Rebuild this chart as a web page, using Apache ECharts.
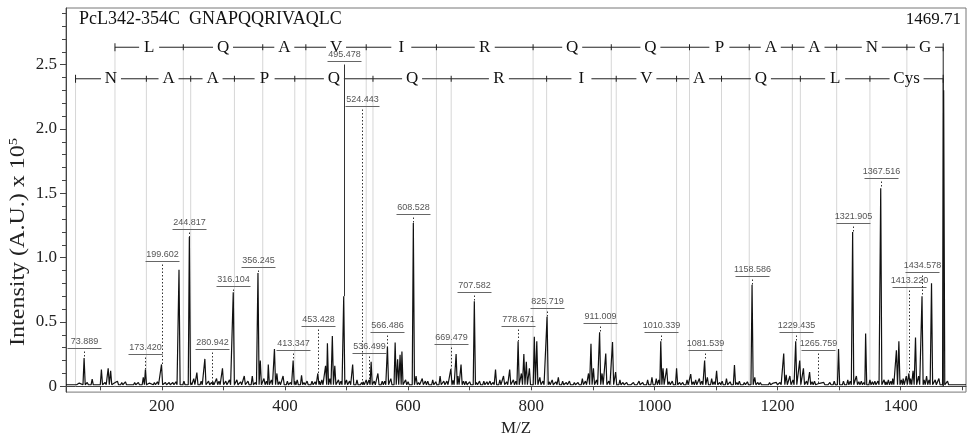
<!DOCTYPE html>
<html lang="en">
<head>
  <meta charset="UTF-8">
  <title>PcL342-354C GNAPQQRIVAQLC</title>
  <style>
    * { padding: 0; margin: 0; box-sizing: border-box; }
    body { background: #fff; }
    #chart { width: 969px; height: 442px; }
  </style>
</head>
<body>
  <div id="chart"></div>

  <script src="https://cdn.jsdelivr.net/npm/echarts@6/dist/echarts.min.js"></script>
  <script>
    // axis ticks
    const xTicks = [100, 200, 300, 400, 500, 600, 700, 800, 900, 1000, 1100, 1200, 1300, 1400, 1500];
    const xLabels = [200, 400, 600, 800, 1000, 1200, 1400];
    const yTicks = [0, 0.1, 0.2, 0.3, 0.4, 0.5, 0.6, 0.7, 0.8, 0.9, 1.0, 1.1, 1.2, 1.3, 1.4, 1.5,
      1.6, 1.7, 1.8, 1.9, 2.0, 2.1, 2.2, 2.3, 2.4, 2.5, 2.6, 2.7, 2.8, 2.9];
    const yLabels = [0, 0.5, 1.0, 1.5, 2.0, 2.5];

    // labelled peaks: m/z text, peak height, level of the label
    const labelNames = ['73.889', '173.420', '199.602', '244.817', '280.942', '316.104', '356.245',
      '413.347', '453.428', '495.478', '524.443', '536.499', '566.486', '608.528', '669.479',
      '707.582', '778.671', '825.719', '911.009', '1010.339', '1081.539', '1158.586', '1229.435',
      '1265.759', '1321.905', '1367.516', '1413.220', '1434.578'];
    const labelPeakHeights = [0.22, 0.13, 0.17, 1.16, 0.03, 0.73, 0.88,
      0.2, 0.1, 0.70, 0.03, 0.05, 0.31, 1.27, 0.135,
      0.66, 0.35, 0.54, 0.42, 0.35, 0.2, 0.79, 0.35,
      0.02, 1.2, 1.54, 0.1, 0.70];
    const labelLevels = [0.30, 0.25, 0.97, 1.22, 0.29, 0.78, 0.93,
      0.28, 0.47, 2.53, 2.18, 0.26, 0.42, 1.34, 0.33,
      0.73, 0.47, 0.61, 0.49, 0.42, 0.28, 0.86, 0.42,
      0.28, 1.27, 1.62, 0.77, 0.89];

    // precursor
    const precursorMz = 1469.71;
    const precursorHeight = 2.3;

    // unlabelled peaks [m/z, height]
    const otherPeaks = [
      [87, 0.055], [102, 0.13], [113, 0.14], [117, 0.12], [128, 0.04], [141, 0.035], [156, 0.03],
      [170, 0.07], [188, 0.03], [212, 0.03], [218, 0.03], [228, 0.905], [236, 0.04], [252, 0.06],
      [257, 0.106], [264, 0.04], [270, 0.213], [276, 0.04], [289, 0.06], [298.6, 0.14], [304, 0.04],
      [310, 0.05], [322, 0.05], [334, 0.08], [340, 0.04], [347, 0.08], [360, 0.2], [366, 0.06],
      [373, 0.17], [378, 0.05], [383, 0.29], [387, 0.1], [397, 0.08], [404, 0.04], [420, 0.05],
      [427, 0.085], [436, 0.04], [444, 0.04], [460, 0.05], [466, 0.16], [469, 0.335], [473, 0.06],
      [477, 0.39], [481, 0.16], [487, 0.05], [500, 0.05], [510, 0.17], [517, 0.05], [532, 0.05],
      [540, 0.19], [551, 0.1], [558, 0.04], [572, 0.06], [579, 0.34], [583, 0.21], [587, 0.245],
      [590, 0.27], [596, 0.05], [613, 0.08], [623, 0.06], [632, 0.04], [640, 0.05], [652, 0.08],
      [658, 0.04], [678, 0.25], [681, 0.08], [686, 0.17], [694, 0.04], [716, 0.04], [723, 0.04],
      [733, 0.04], [742, 0.13], [749, 0.05], [755, 0.08], [765, 0.13], [771, 0.05], [784, 0.1],
      [788, 0.25], [792, 0.19], [797, 0.14], [805, 0.385], [809, 0.35], [814, 0.07], [834, 0.05],
      [844, 0.07], [851, 0.04], [862, 0.04], [870, 0.03], [883, 0.06], [893, 0.1], [897, 0.33],
      [901, 0.14], [915, 0.1], [921, 0.255], [932, 0.345], [937, 0.11], [944, 0.05], [955, 0.03],
      [966, 0.03], [975, 0.04], [989, 0.05], [996, 0.07], [1003, 0.06], [1014, 0.14], [1020, 0.14],
      [1029, 0.04], [1036, 0.14], [1046, 0.03], [1053, 0.05], [1059, 0.095], [1067, 0.05],
      [1073, 0.06], [1086, 0.07], [1093, 0.06], [1101, 0.12], [1110, 0.04], [1117, 0.06],
      [1130, 0.165], [1138, 0.04], [1146, 0.03], [1163, 0.07], [1172, 0.03], [1187, 0.03],
      [1198, 0.03], [1210, 0.255], [1214, 0.09], [1220, 0.08], [1236, 0.2], [1242, 0.14],
      [1252, 0.11], [1260, 0.04], [1275, 0.03], [1285, 0.03], [1292, 0.04], [1299, 0.29],
      [1307, 0.04], [1314, 0.05], [1328, 0.08], [1336, 0.04], [1343, 0.41], [1350, 0.05],
      [1358, 0.04], [1373, 0.05], [1380, 0.05], [1387, 0.06], [1393, 0.28], [1397, 0.35],
      [1404, 0.06], [1409, 0.08], [1420, 0.12], [1424, 0.38], [1429, 0.08], [1442, 0.08],
      [1450, 0.80], [1456, 0.05], [1462, 0.06], [1476, 0.04], [1485, 0.02], [1495, 0.02]
    ];

    // low baseline bumps [m/z, height]
    const noisePeaks = [
      [60, 0.02], [66, 0.025], [79, 0.03], [95, 0.025], [108, 0.03], [123, 0.025], [135, 0.03],
      [148, 0.025], [162, 0.03], [180, 0.025], [193, 0.035], [206, 0.03], [223, 0.035], [247, 0.03],
      [283, 0.035], [293, 0.04], [328, 0.035], [352, 0.03], [370, 0.04], [391, 0.035], [409, 0.03],
      [416, 0.04], [431, 0.03], [449, 0.035], [456, 0.04], [491, 0.04], [505, 0.04], [527, 0.035],
      [545, 0.04], [562, 0.04], [600, 0.035], [617, 0.03], [628, 0.04], [645, 0.035], [663, 0.04],
      [673, 0.045], [690, 0.04], [700, 0.035], [711, 0.03], [728, 0.035], [738, 0.03], [760, 0.035],
      [775, 0.04], [819, 0.04], [829, 0.035], [840, 0.035], [857, 0.03], [876, 0.03], [888, 0.04],
      [906, 0.05], [926, 0.04], [949, 0.03], [960, 0.025], [970, 0.025], [981, 0.03], [1007, 0.05],
      [1024, 0.035], [1041, 0.03], [1063, 0.035], [1077, 0.04], [1097, 0.035], [1106, 0.03],
      [1123, 0.035], [1134, 0.03], [1151, 0.035], [1168, 0.03], [1180, 0.025], [1193, 0.025],
      [1204, 0.03], [1225, 0.05], [1247, 0.04], [1256, 0.035], [1270, 0.025], [1280, 0.025],
      [1318, 0.04], [1332, 0.035], [1340, 0.03], [1354, 0.035], [1363, 0.04], [1376, 0.035],
      [1384, 0.04], [1401, 0.05], [1416, 0.06], [1438, 0.05], [1446, 0.05]
    ];

    // fragment ladders
    const topLadderMz = [124, 235, 364, 434, 532, 646, 803, 930, 1057, 1154, 1224, 1296, 1410, 1469];
    const topLadderRes = ['L', 'Q', 'A', 'V', 'I', 'R', 'Q', 'Q', 'P', 'A', 'A', 'N', 'G'];
    const bottomLadderMz = [60, 175, 247, 318, 416, 543, 670, 825, 938, 1036, 1109, 1237, 1350, 1469];
    const bottomLadderRes = ['N', 'A', 'A', 'P', 'Q', 'Q', 'R', 'I', 'V', 'A', 'Q', 'L', 'Cys'];

    const serif = '"Liberation Serif", "Times New Roman", serif';
    const topLevel = 2.635;
    const bottomLevel = 2.39;
    const baseLevel = 0.012;
    const halfWidth = 1.8;

    // peak list -> stick spectrum
    const allPeaks = otherPeaks
      .concat(noisePeaks)
      .concat(labelNames.map((n, i) => [parseFloat(n), labelPeakHeights[i]]))
      .concat([[precursorMz, precursorHeight]])
      .sort((a, b) => a[0] - b[0]);
    const spectrum = [[44.5, baseLevel]];
    allPeaks.forEach(p => {
      spectrum.push([p[0] - halfWidth, baseLevel], [p[0], p[1]], [p[0] + halfWidth, baseLevel]);
    });
    spectrum.push([1506, baseLevel]);

    const ladderSegments = [];
    const ladderLines = [];
    [topLadderMz, bottomLadderMz].forEach((mz, r) => {
      for (let i = 0; i < mz.length - 1; i++) ladderSegments.push([mz[i], mz[i + 1], r, i]);
      mz.forEach((m, i) => ladderLines.push([m, r, i === mz.length - 1 ? 1 : 0]));
    });

    const chart = echarts.init(document.getElementById('chart'));
    chart.setOption({
      animation: false,
      grid: { left: 66, right: 3, top: 8, bottom: 43, show: true, borderColor: '#777', borderWidth: 1 },
      xAxis: {
        type: 'value', min: 44.5, max: 1506,
        name: 'M/Z', nameLocation: 'middle', nameGap: 26,
        nameTextStyle: { fontFamily: serif, fontSize: 17, color: '#222' },
        axisLine: { lineStyle: { color: '#444' } },
        axisTick: { customValues: xTicks, length: 4, lineStyle: { color: '#444' } },
        axisLabel: {
          customValues: xLabels, margin: 6, fontFamily: serif, fontSize: 17, color: '#222',
          formatter: v => String(v)
        },
        splitLine: { show: false }
      },
      yAxis: [{
        type: 'value', min: -0.045, max: 2.94,
        axisLine: { show: true, lineStyle: { color: '#444' } },
        axisTick: { customValues: yTicks, length: 4, lineStyle: { color: '#444' } },
        axisLabel: {
          customValues: yLabels, margin: 9, fontFamily: serif, fontSize: 17, color: '#222',
          formatter: v => v === 0 ? '0' : v.toFixed(1)
        },
        splitLine: { show: false }
      }, {
        type: 'value', min: -0.045, max: 2.94, position: 'left', offset: 0,
        axisLine: { show: false },
        axisTick: { customValues: yLabels, length: 6, lineStyle: { color: '#444' } },
        axisLabel: { show: false },
        splitLine: { show: false }
      }],
      graphic: [
        {
          type: 'text', left: 79, top: 10, z: 10,
          style: { text: 'PcL342-354C  GNAPQQRIVAQLC', font: '18px ' + serif, fill: '#111' }
        },
        {
          type: 'text', right: 8, top: 11, z: 10,
          style: { text: '1469.71', font: '17px ' + serif, fill: '#111' }
        },
        {
          type: 'text', x: 19, y: 242, rotation: Math.PI / 2, scaleX: 1.2, z: 10,
          style: {
            text: '{a|Intensity (A.U.) x 10}{s|5}', align: 'center', verticalAlign: 'middle',
            rich: {
              a: { fontFamily: serif, fontSize: 20, fill: '#222' },
              s: { fontFamily: serif, fontSize: 12, fill: '#222', padding: [0, 0, 11, 0] }
            }
          }
        }
      ],
      series: [
        {
          // light guide lines below each ladder position
          type: 'custom',
          z: 1,
          data: ladderLines,
          renderItem: (params, api) => {
            const m = api.value(0);
            const lvl = api.value(1) === 0 ? topLevel : bottomLevel;
            const end = api.value(2) === 1;
            const p0 = api.coord([m, lvl]);
            const p1 = api.coord([m, 0]);
            return {
              type: 'line',
              shape: { x1: p0[0], y1: p0[1], x2: p1[0], y2: p1[1] },
              style: { stroke: end ? '#222' : '#d6d6d6', lineWidth: 1 }
            };
          }
        },
        {
          type: 'line',
          z: 3,
          data: spectrum,
          showSymbol: false,
          lineStyle: { color: '#111', width: 1.2 }
        },
        {
          // sequence ladders
          type: 'custom',
          z: 5,
          data: ladderSegments,
          renderItem: (params, api) => {
            const r = api.value(2), i = api.value(3);
            const lvl = r === 0 ? topLevel : bottomLevel;
            const res = r === 0 ? topLadderRes[i] : bottomLadderRes[i];
            const nSeg = r === 0 ? topLadderRes.length : bottomLadderRes.length;
            const p0 = api.coord([api.value(0), lvl]);
            const p1 = api.coord([api.value(1), lvl]);
            const y = p0[1];
            const xc = (p0[0] + p1[0]) / 2;
            const w = res.length > 1 ? 26 : 12;
            const stroke = { stroke: '#222', lineWidth: 1 };
            const children = [
              { type: 'line', shape: { x1: p0[0], y1: y, x2: xc - w / 2 - 4, y2: y }, style: stroke },
              { type: 'line', shape: { x1: xc + w / 2 + 4, y1: y, x2: p1[0], y2: y }, style: stroke },
              {
                type: 'text',
                style: { text: res, x: xc, y: y, align: 'center', verticalAlign: 'middle', font: '17px ' + serif, fill: '#111' }
              }
            ];
            const th = i === 0 ? 4 : 3;
            children.push({ type: 'line', shape: { x1: p0[0], y1: y - th, x2: p0[0], y2: y + th }, style: stroke });
            if (i === nSeg - 1) {
              children.push({ type: 'line', shape: { x1: p1[0], y1: y - 4, x2: p1[0], y2: y + 4 }, style: stroke });
            }
            return { type: 'group', children: children };
          }
        },
        {
          // peak m/z annotations
          type: 'custom',
          z: 6,
          data: labelNames.map((n, i) => [parseFloat(n), labelLevels[i], i]),
          renderItem: (params, api) => {
            const i = api.value(2);
            const m = api.value(0);
            const pl = api.coord([m, api.value(1)]);
            const pp = api.coord([m, labelPeakHeights[i]]);
            const x = Math.round(pl[0]) + 0.5;
            const yl = Math.round(pl[1]) + 0.5;
            const solid = labelNames[i] === '495.478';
            return {
              type: 'group',
              children: [
                {
                  type: 'text',
                  style: { text: labelNames[i], x: x, y: yl - 2, align: 'center', verticalAlign: 'bottom', font: '9px "Liberation Sans", Arial, sans-serif', fill: '#555' }
                },
                { type: 'line', shape: { x1: x - 17, y1: yl, x2: x + 17, y2: yl }, style: { stroke: '#666', lineWidth: 1 } },
                {
                  type: 'line', shape: { x1: x, y1: yl + 3, x2: x, y2: pp[1] },
                  style: solid ? { stroke: '#333', lineWidth: 1 } : { stroke: '#333', lineWidth: 1, lineDash: [1.5, 2] }
                }
              ]
            };
          }
        }
      ]
    });
  </script>
</body>
</html>
